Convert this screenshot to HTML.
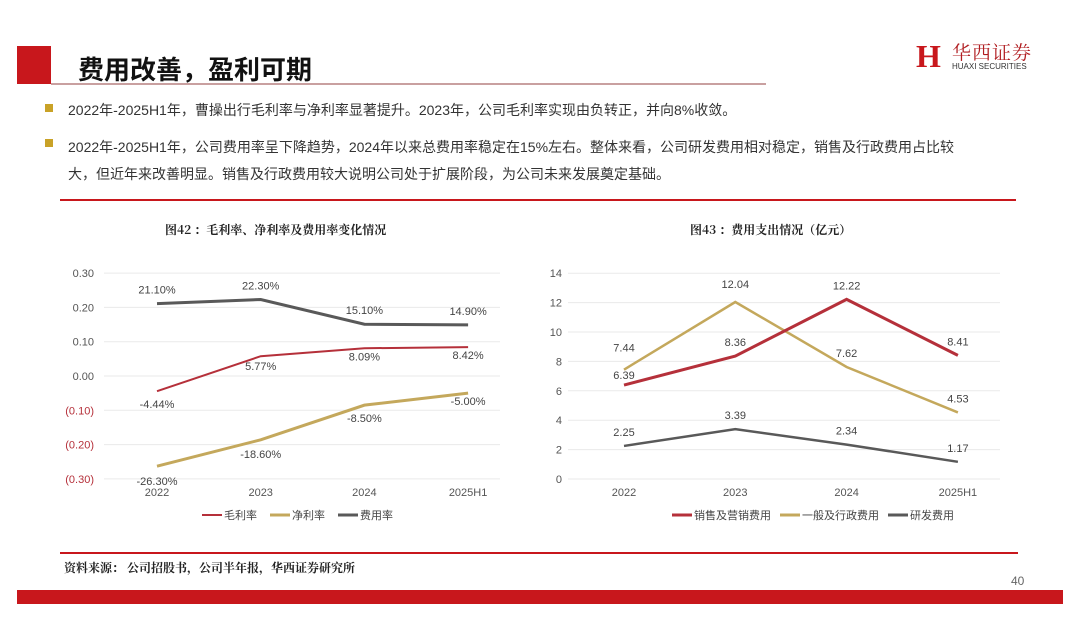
<!DOCTYPE html>
<html><head><meta charset="utf-8"><style>
body{margin:0;width:1080px;height:622px;background:#fff;position:relative;overflow:hidden;font-family:"Liberation Sans","Noto Sans CJK SC",sans-serif;}
.abs{position:absolute;}
.b{font-size:14px;color:#333;}
svg text{font-family:"Liberation Sans","Noto Sans CJK SC",sans-serif;}
</style></head><body>
<div class="abs" style="left:17px;top:46px;width:34px;height:38px;background:#c8171c"></div>
<div class="abs" style="left:51px;top:83px;width:715px;height:2px;background:#c9a0a0"></div>
<div class="abs" style="left:78px;top:50px;font-size:26px;font-weight:bold;color:#111">费用改善，盈利可期</div>
<div class="abs" style="left:916px;top:40px;width:130px;height:34px">
<div class="abs" style="left:0;top:0;width:28px;height:32px;color:#c8171c;font:bold 32px 'Liberation Serif',serif;line-height:32px">H</div>
<div class="abs" style="left:36px;top:-2px;font-size:19px;color:#b01c20;font-family:'Noto Serif CJK SC',serif;letter-spacing:1px">华西证券</div>
<div class="abs" style="left:36px;top:22px;font-size:8px;color:#333">HUAXI SECURITIES</div></div>
<div class="abs" style="left:45px;top:104px;width:8px;height:8px;background:#c9a227"></div>
<div class="abs b" style="left:68px;top:100px">2022年-2025H1年，曹操出行毛利率与净利率显著提升。2023年，公司毛利率实现由负转正，并向8%收敛。</div>
<div class="abs" style="left:45px;top:139px;width:8px;height:8px;background:#c9a227"></div>
<div class="abs b" style="left:68px;top:134px;line-height:27px;width:900px">2022年-2025H1年，公司费用率呈下降趋势，2024年以来总费用率稳定在15%左右。整体来看，公司研发费用相对稳定，销售及行政费用占比较大，但近年来改善明显。销售及行政费用较大说明公司处于扩展阶段，为公司未来发展奠定基础。</div>
<div class="abs" style="left:60px;top:199px;width:956px;height:2px;background:#c8171c"></div>
<div class="abs" style="left:165px;top:221px;font-size:12px;font-weight:bold;color:#222;font-family:'Noto Serif CJK SC',serif">图42 ：毛利率、净利率及费用率变化情况</div>
<div class="abs" style="left:690px;top:221px;font-size:12px;font-weight:bold;color:#222;font-family:'Noto Serif CJK SC',serif">图43 ：费用支出情况（亿元）</div>
<svg class="abs" style="left:0;top:0" width="1080" height="622" id="s"></svg>
<div class="abs" style="left:60px;top:552px;width:958px;height:2px;background:#c8171c"></div>
<div class="abs" style="left:64px;top:559px;font-size:12px;font-weight:bold;color:#222;font-family:'Noto Serif CJK SC',serif">资料来源：  公司招股书，公司半年报，华西证券研究所</div>
<div class="abs" style="left:1011px;top:574px;font-size:12px;color:#666">40</div>
<div class="abs" style="left:17px;top:590px;width:1046px;height:14px;background:#c8171c"></div>
<script>
const cats=["2022","2023","2024","2025H1"];
const gross=[-4.44,5.77,8.09,8.42];
const net=[-26.30,-18.60,-8.50,-5.00];
const exp=[21.10,22.30,15.10,14.90];
const leftTicks=[0.30,0.20,0.10,0,-0.10,-0.20,-0.30];
const sales=[6.39,8.36,12.22,8.41];
const admin=[7.44,12.04,7.62,4.53];
const rd=[2.25,3.39,2.34,1.17];
const rightTicks=[0,2,4,6,8,10,12,14];
const s=document.getElementById('s');const NS="http://www.w3.org/2000/svg";
function el(t,a,txt){const e=document.createElementNS(NS,t);for(const k in a)e.setAttribute(k,a[k]);if(txt!=null)e.textContent=txt;s.appendChild(e);return e;}
const lx=i=>157+i*103.7, ly=v=>376-v*343;
leftTicks.forEach(v=>{const g=el('line',{x1:104,x2:500,y1:ly(v),y2:ly(v),stroke:'#eaeaea'});
const t=el('text',{x:94,y:ly(v)+4,'text-anchor':'end','font-size':11,fill:v<0?'#b5303a':'#555'},v<0?'('+Math.abs(v).toFixed(2)+')':v.toFixed(2));});
cats.forEach((c,i)=>{const t=el('text',{x:lx(i),y:496,'text-anchor':'middle','font-size':11,fill:'#555'},c);});
function series(data,X,Y,col,w,name,off,fmt){const p=el('polyline',{points:data.map((v,i)=>X(i)+','+Y(v)).join(' '),fill:'none',stroke:col,'stroke-width':w});
data.forEach((v,i)=>{const t=el('text',{x:X(i),y:Y(v)+off[i],'text-anchor':'middle','font-size':11,fill:'#444'},fmt(v));});}
const pct=v=>v.toFixed(2)+'%';
series(exp.map(v=>v/100),lx,ly,'#595959',3,'expense-rate',[-10,-10,-10,-10],v=>pct(v*100));
series(gross.map(v=>v/100),lx,ly,'#b5303a',2,'gross-margin',[17,14,12,12],v=>pct(v*100));
series(net.map(v=>v/100),lx,ly,'#c4a85c',3,'net-margin',[19,18,17,12],v=>pct(v*100));
const rx=i=>624+i*111.3, ry=v=>479-v*14.7;
rightTicks.forEach(v=>{const g=el('line',{x1:568,x2:1000,y1:ry(v),y2:ry(v),stroke:'#eaeaea'});
const t=el('text',{x:562,y:ry(v)+4,'text-anchor':'end','font-size':11,fill:'#555'},v);});
cats.forEach((c,i)=>{const t=el('text',{x:rx(i),y:496,'text-anchor':'middle','font-size':11,fill:'#555'},c);});
const f2=v=>v.toFixed(2);
series(admin,rx,ry,'#c4a85c',2.5,'admin-expense',[-18,-14,-10,-10],f2);
series(sales,rx,ry,'#b5303a',3,'sales-expense',[-6,-10,-10,-10],f2);
series(rd,rx,ry,'#595959',2.5,'rd-expense',[-10,-10,-10,-10],f2);
function leg(x,col,label,w){const l=el('line',{x1:x,x2:x+20,y1:515,y2:515,stroke:col,'stroke-width':w});
const t=el('text',{x:x+22,y:519,'font-size':11,fill:'#444'},label);}
leg(202,'#b5303a','毛利率',2);leg(270,'#c4a85c','净利率',3);leg(338,'#595959','费用率',3);
leg(672,'#b5303a','销售及营销费用',3);leg(780,'#c4a85c','一般及行政费用',3);leg(888,'#595959','研发费用',3);
</script>
</body></html>
